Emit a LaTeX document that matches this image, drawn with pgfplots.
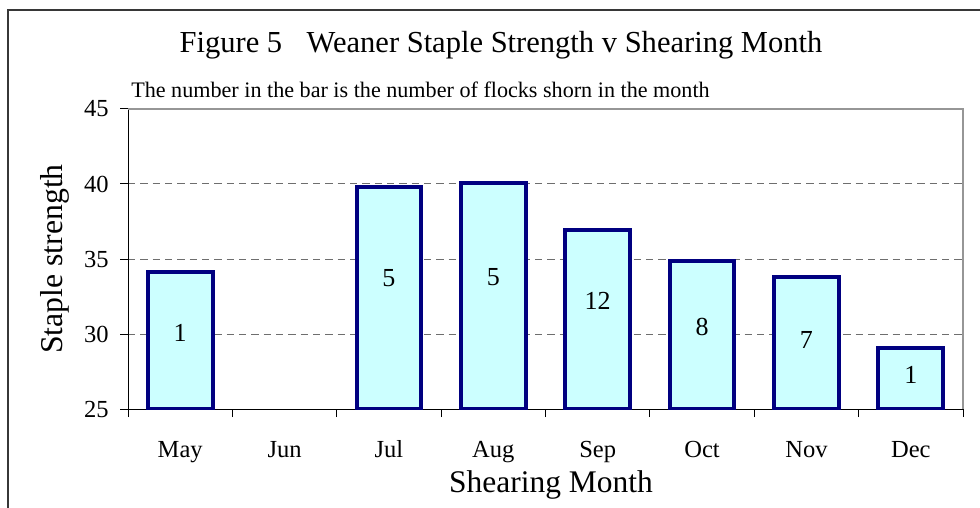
\documentclass[border=0pt]{standalone}
\usepackage{fontspec}
\setmainfont{Liberation Serif}
\usepackage{pgfplots}
\pgfplotsset{compat=1.18}
\definecolor{barnavy}{RGB}{0,0,128}
\definecolor{barfill}{RGB}{204,255,255}
\definecolor{gridgray}{RGB}{110,110,110}
\definecolor{framegray}{RGB}{55,55,55}
\definecolor{bordergray}{RGB}{150,150,150}
\begin{document}
\begin{tikzpicture}
\useasboundingbox (0,0) rectangle (735pt,380.25pt);
\draw[framegray, line width=1.2pt] (6pt,-2pt) -- (6pt,372.75pt) -- (740pt,372.75pt);
\begin{axis}[
  at={(96pt,73.5pt)}, anchor=south west,
  scale only axis, width=626.25pt, height=225pt,
  xmin=-0.5, xmax=7.5, ymin=25, ymax=45,
  clip mode=individual,
  axis x line*=bottom, axis y line*=left,
  axis line style={black, line width=0.75pt},
  xtick={-0.5,0.5,...,7.5},
  x tick label as interval,
  xticklabels={May,Jun,Jul,Aug,Sep,Oct,Nov,Dec},
  ytick={25,30,...,45},
  tick align=outside,
  major tick length=6pt,
  tick style={black, line width=0.75pt},
  /pgf/number format/assume math mode=true,
  ticklabel style={font=\fontsize{18.4pt}{20pt}\selectfont},
  xticklabel style={anchor=north, text height=0.7em, text depth=0.22em, yshift=-19.5pt},
  yticklabel style={xshift=-5pt},
  ymajorgrids,
  grid style={gridgray, line width=0.75pt, dash pattern=on 5.5pt off 3.75pt},
  every axis y label/.style={at={(axis description cs:-0.079,0.5)}, anchor=base, rotate=90, font=\fontsize{23.8pt}{26pt}\selectfont},
  every axis x label/.style={at={(axis description cs:0.5066,-0.279)}, anchor=base, font=\fontsize{23.6pt}{26pt}\selectfont},
  ylabel={Staple strength},
  xlabel={Shearing Month},
]
\addplot[ybar, bar width=0.62, draw=barnavy, fill=barfill, line width=3pt] coordinates {
  (0,34.13) (2,39.8) (3,40.09) (4,36.95) (5,34.87) (6,33.8) (7,29.07)
};
\addplot[draw=none, mark=none, nodes near coords, point meta=explicit symbolic,
  nodes near coords align={center},
  every node near coord/.append style={anchor=center, inner sep=0pt, font=\fontsize{19.5pt}{21pt}\selectfont}]
  table[meta=label] {
x y label
0 30.05 1
2 33.71 5
3 33.78 5
4 32.22 12
5 30.49 8
6 29.6 7
7 27.27 1
};
\draw[bordergray, line width=1.3pt] (rel axis cs:0,1) -- (rel axis cs:1,1) -- (rel axis cs:1,0);
\node[anchor=base, font=\fontsize{22.9pt}{25pt}\selectfont] at (axis description cs:0.4467,1.189) {Figure 5\hspace{0.8em}Weaner Staple Strength v Shearing Month};
\node[anchor=base west, inner sep=0pt, font=\fontsize{16.6pt}{18pt}\selectfont] at (axis description cs:0.0036,1.0367) {The number in the bar is the number of flocks shorn in the month};
\end{axis}
\end{tikzpicture}
\end{document}
